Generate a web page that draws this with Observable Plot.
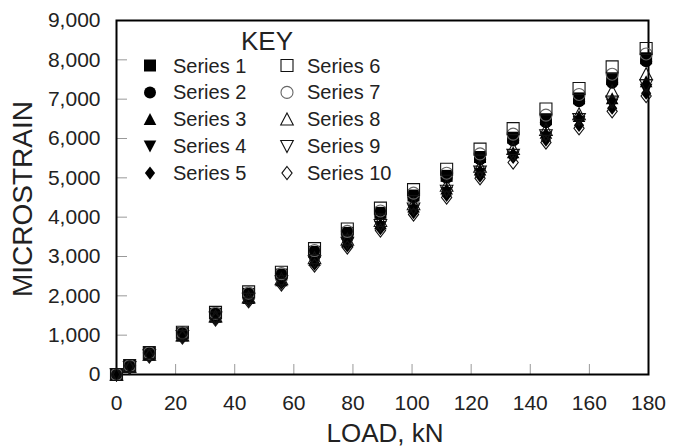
<!DOCTYPE html>
<html>
<head>
<meta charset="utf-8">
<script src="https://cdn.jsdelivr.net/npm/d3@7"></script>
<script src="https://cdn.jsdelivr.net/npm/@observablehq/plot@0.6"></script>
<style>
  html, body { margin: 0; padding: 0; background: #fff; }
  #chart { width: 680px; height: 448px; }
</style>
</head>
<body>
<div id="chart"></div>
<script>
// ---- data ----
const loads = [0, 4.45, 11.1, 22.3, 33.5, 44.7, 55.8, 67, 78.1, 89.3, 100.5, 111.7, 123, 134.2, 145.3, 156.5, 167.7, 179.2];
const series1  = [0, 220, 545, 1050, 1545, 2050, 2540, 3120, 3600, 4110, 4550, 5050, 5530, 6020, 6490, 7020, 7510, 8040];
const series2  = [0, 215, 540, 1043, 1535, 2036, 2522, 3096, 3570, 4074, 4505, 4999, 5470, 5951, 6412, 6945, 7417, 7965];
const series3  = [0, 190, 494, 984, 1458, 1936, 2390, 2910, 3378, 3840, 4262, 4720, 5206, 5642, 6136, 6564, 7018, 7450];
const series4  = [0, 181, 479, 964, 1432, 1902, 2345, 2847, 3311, 3759, 4176, 4621, 5109, 5529, 6030, 6427, 6870, 7250];
const series5  = [0, 175, 469, 951, 1414, 1879, 2315, 2805, 3267, 3705, 4118, 4555, 5044, 5520, 5959, 6336, 6772, 7150];
const series6  = [0, 230, 560, 1075, 1580, 2100, 2600, 3200, 3700, 4230, 4700, 5220, 5730, 6250, 6750, 7270, 7820, 8290];
const series7  = [0, 224, 551, 1060, 1559, 2070, 2564, 3152, 3640, 4158, 4610, 5118, 5610, 6112, 6594, 7120, 7634, 8150];
const series8  = [0, 198, 507, 1000, 1480, 1965, 2428, 2963, 3434, 3908, 4334, 4803, 5287, 5737, 6225, 6620, 7200, 7640];
const series9  = [0, 185, 486, 973, 1444, 1917, 2365, 2875, 3341, 3795, 4214, 4665, 5152, 5579, 6077, 6488, 6936, 7350];
const series10 = [0, 170, 460, 940, 1400, 1860, 2290, 2770, 3230, 3660, 4070, 4500, 4990, 5390, 5900, 6260, 6690, 7080];
const seriesNames = ["Series 1", "Series 2", "Series 3", "Series 4", "Series 5", "Series 6", "Series 7", "Series 8", "Series 9", "Series 10"];
const xTicks = [0, 20, 40, 60, 80, 100, 120, 140, 160, 180];
const yTicks = [0, 1000, 2000, 3000, 4000, 5000, 6000, 7000, 8000, 9000];
const xLabel = "LOAD, kN";
const yLabel = "MICROSTRAIN";
const keyTitle = "KEY";

// ---- marker shapes ----
const half = size => Math.sqrt(size / Math.PI);
const symSquare = {draw(c, s) { const h = half(s); c.rect(-h, -h, 2 * h, 2 * h); }};
const symCircle = {draw(c, s) { const h = half(s); c.moveTo(h, 0); c.arc(0, 0, h, 0, 2 * Math.PI); }};
const symTriUp = {draw(c, s) { const h = half(s); c.moveTo(0, -h * 1.05); c.lineTo(h * 1.05, h * 0.95); c.lineTo(-h * 1.05, h * 0.95); c.closePath(); }};
const symTriDown = {draw(c, s) { const h = half(s); c.moveTo(0, h * 1.05); c.lineTo(h * 1.05, -h * 0.95); c.lineTo(-h * 1.05, -h * 0.95); c.closePath(); }};
const symDiamond = {draw(c, s) { const h = half(s); c.moveTo(0, -h * 1.1); c.lineTo(h * 0.85, 0); c.lineTo(0, h * 1.1); c.lineTo(-h * 0.85, 0); c.closePath(); }};

const seriesValues = [series1, series2, series3, series4, series5, series6, series7, series8, series9, series10];
const shapes = [symSquare, symCircle, symTriUp, symTriDown, symDiamond, symSquare, symCircle, symTriUp, symTriDown, symDiamond];
const R = 6;
const styleFor = i => i < 5
  ? {fill: "#000", stroke: "none"}
  : {fill: "none", stroke: i === 6 ? "#666" : "#111", strokeWidth: 1.1};

const rows = seriesNames.map((name, i) => seriesValues[i].map((v, j) => ({series: name, load: loads[j], strain: v})));
// drawing order: filled shapes (squares last so they stay on top), then open shapes
const drawOrder = [4, 3, 2, 1, 0, 9, 8, 7, 6, 5];

const chart = Plot.plot({
  width: 680,
  height: 448,
  marginLeft: 116,
  marginRight: 32,
  marginTop: 20,
  marginBottom: 74,
  style: {fontFamily: "'Liberation Sans', Arial, sans-serif", fontSize: "21px", color: "#222", background: "#fff", overflow: "visible"},
  x: {domain: [0, 180]},
  y: {domain: [0, 9000]},
  marks: [
    Plot.axisX({ticks: xTicks, tickSize: -10, tickPadding: 31, stroke: "#999", fill: "#222", tickFormat: d3.format("d"), label: null}),
    Plot.axisY({ticks: yTicks, tickSize: -11, tickPadding: 27, stroke: "#999", fill: "#222", tickFormat: d3.format(","), label: null}),
    Plot.frame({stroke: "#000", strokeWidth: 2}),
    ...drawOrder.map(i => Plot.dot(rows[i], {x: "load", y: "strain", symbol: shapes[i], r: R, ...styleFor(i)}))
  ]
});

const svg = d3.select(chart);

// axis titles
svg.append("text")
  .attr("x", 385).attr("y", 442)
  .attr("text-anchor", "middle")
  .attr("font-size", 26).attr("fill", "#222")
  .text(xLabel);
svg.append("text")
  .attr("transform", "translate(32,199) rotate(-90)")
  .attr("text-anchor", "middle")
  .attr("font-size", 28).attr("fill", "#222")
  .text(yLabel);

// key
const key = svg.append("g").attr("class", "key");
key.append("text")
  .attr("x", 267).attr("y", 50)
  .attr("text-anchor", "middle")
  .attr("font-size", 26).attr("fill", "#222")
  .text(keyTitle);
const markerX = [150, 287], textX = [173, 307];
seriesNames.forEach((name, i) => {
  const col = i < 5 ? 0 : 1, row = i % 5;
  const cy = 65.5 + row * 26.9;
  const st = styleFor(i);
  key.append("path")
    .attr("transform", `translate(${markerX[col]},${cy})`)
    .attr("d", d3.symbol(shapes[i], Math.PI * R * R)())
    .attr("fill", st.fill).attr("stroke", st.stroke).attr("stroke-width", st.strokeWidth || null);
  key.append("text")
    .attr("x", textX[col]).attr("y", cy + 7)
    .attr("text-anchor", "start")
    .attr("font-size", 20).attr("fill", "#222")
    .text(name);
});

document.getElementById("chart").appendChild(chart);
</script>
</body>
</html>
